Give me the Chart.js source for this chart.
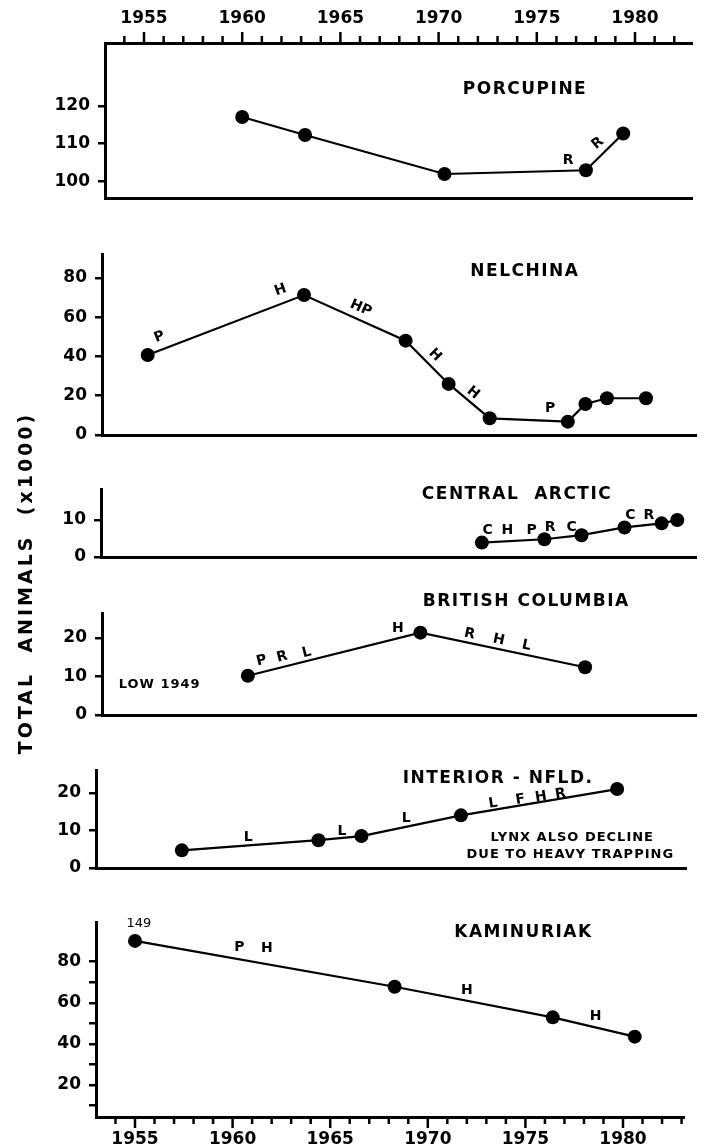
<!DOCTYPE html>
<html lang="en">
<head>
<meta charset="UTF-8">
<title>Total animals (x1000) by herd</title>
<script src="https://cdn.jsdelivr.net/npm/chart.js@4"></script>
<style>
  html, body { margin: 0; background: #fff; }
  #wrap { position: relative; width: 703px; height: 1148px; }
  #wrap canvas { position: absolute; left: 0; top: 0; }
</style>
</head>
<body>
<div id="wrap"></div>
<script>
// ---- data: survey years and herd size in thousands ----
const yearTicks = [1955, 1960, 1965, 1970, 1975, 1980];

const porcupineYears  = [1960.0, 1963.2, 1970.3, 1977.5, 1979.4];
const porcupineValues = [117.1, 112.3, 101.9, 102.9, 112.7];
const porcupineTicks  = [100, 110, 120];

const nelchinaYears  = [1955.2, 1963.2, 1968.4, 1970.6, 1972.7, 1976.7, 1977.6, 1978.7, 1980.7];
const nelchinaValues = [40.7, 71.2, 48.0, 26.0, 8.5, 6.8, 15.8, 18.7, 18.7];
const nelchinaTicks  = [0, 10, 20, 30, 40, 50, 60, 70, 80];

const arcticYears  = [1972.3, 1975.5, 1977.4, 1979.6, 1981.5, 1982.3];
const arcticValues = [3.9, 4.8, 5.9, 8.0, 9.1, 10.0];
const arcticTicks  = [0, 10];

const bcYears  = [1960.3, 1969.1, 1977.5];
const bcValues = [10.2, 21.4, 12.4];
const bcTicks  = [0, 10, 20];

const nfldYears  = [1957.4, 1964.4, 1966.6, 1971.7, 1979.7];
const nfldValues = [4.7, 7.4, 8.5, 14.0, 21.0];
const nfldTicks  = [0, 10, 20];

const kamYears  = [1955.0, 1968.3, 1976.4, 1980.6];
const kamValues = [90.1, 67.8, 52.9, 43.5];
const kamTicks  = [10, 20, 30, 40, 50, 60, 70, 80];

// text notes: [text, year, value, angle, kind]
const porcupineNotes = [
  ['PORCUPINE', 1974.4, 124.3, 0, 'title'],
  ['R', 1976.6, 105.6, 0, 'tag'],
  ['R', 1978.1, 110.1, -40, 'tag']
];
const nelchinaNotes = [
  ['NELCHINA', 1974.5, 83.0, 0, 'title'],
  ['P', 1955.8, 49.9, -21, 'tag'],
  ['H', 1962.0, 73.8, -20, 'tag'],
  ['HP', 1966.1, 64.6, 24, 'tag'],
  ['H', 1969.9, 40.7, 45, 'tag'],
  ['H', 1971.85, 21.4, 39, 'tag'],
  ['P', 1975.8, 13.7, 0, 'tag']
];
const arcticNotes = [
  ['CENTRAL  ARCTIC', 1974.1, 17.0, 0, 'title'],
  ['C', 1972.6, 7.3, 0, 'tag'], ['H', 1973.6, 7.3, 0, 'tag'], ['P', 1974.85, 7.3, 0, 'tag'],
  ['R', 1975.8, 8.1, 0, 'tag'], ['C', 1976.9, 8.1, 0, 'tag'],
  ['C', 1979.9, 11.35, 0, 'tag'], ['R', 1980.85, 11.35, 0, 'tag']
];
const bcNotes = [
  ['BRITISH COLUMBIA', 1974.5, 29.35, 0, 'title'],
  ['P', 1961.0, 14.1, -14, 'tag'], ['R', 1962.05, 15.1, -14, 'tag'], ['L', 1963.3, 16.2, -14, 'tag'],
  ['H', 1967.95, 22.5, 0, 'tag'],
  ['R', 1971.6, 21.0, 12, 'tag'], ['H', 1973.1, 19.5, 12, 'tag'], ['L', 1974.5, 18.0, 12, 'tag'],
  ['LOW 1949', 1955.8, 7.8, 0, 'small']
];
const nfldNotes = [
  ['INTERIOR - NFLD.', 1973.6, 23.9, 0, 'title'],
  ['L', 1960.8, 8.2, 0, 'tag'], ['L', 1965.6, 9.8, 0, 'tag'], ['L', 1968.9, 13.2, 0, 'tag'],
  ['L', 1973.35, 17.2, -9, 'tag'], ['F', 1974.75, 18.2, -9, 'tag'],
  ['H', 1975.8, 18.9, -9, 'tag'], ['R', 1976.8, 19.65, -9, 'tag'],
  ['LYNX ALSO DECLINE', 1977.4, 8.2, 0, 'small'],
  ['DUE TO HEAVY TRAPPING', 1977.3, 3.6, 0, 'small']
];
const kamNotes = [
  ['KAMINURIAK', 1974.9, 94.3, 0, 'title'],
  ['149', 1955.2, 98.7, 0, 'thin'],
  ['P', 1960.35, 86.9, 0, 'tag'], ['H', 1961.75, 86.5, 0, 'tag'],
  ['H', 1972.0, 65.8, 0, 'tag'],
  ['H', 1978.6, 53.5, 0, 'tag']
];

const FONT = '"DejaVu Sans", sans-serif';
const noteStyle = {
  title: { size: 17, weight: 'bold', spacing: '1.5px' },
  tag:   { size: 14, weight: 'bold', spacing: '0px' },
  small: { size: 13, weight: 'bold', spacing: '1px' },
  thin:  { size: 13, weight: 'normal', spacing: '0px' }
};

Chart.defaults.font.family = FONT;
Chart.defaults.font.weight = 'bold';
Chart.defaults.color = '#000';

// page geometry of each panel (pixels), x1955/ppy = where 1955 sits and pixels per year
const panels = [
  { years: porcupineYears, values: porcupineValues, ticks: porcupineTicks, shown: porcupineTicks, notes: porcupineNotes,
    left: 105, right: 692, top: 43, bottom: 198, x1955: 144, ppy: 19.64, yMin: 95.5, yMax: 136.8, axis: 'top' },
  { years: nelchinaYears, values: nelchinaValues, ticks: nelchinaTicks, shown: [0, 20, 40, 60, 80], notes: nelchinaNotes,
    left: 102, right: 699, top: 254, bottom: 435, x1955: 144, ppy: 19.64, yMin: 0, yMax: 92.1 },
  { years: arcticYears, values: arcticValues, ticks: arcticTicks, shown: arcticTicks, notes: arcticNotes,
    left: 101, right: 699, top: 489, bottom: 557, x1955: 144, ppy: 19.64, yMin: 0, yMax: 18.4 },
  { years: bcYears, values: bcValues, ticks: bcTicks, shown: bcTicks, notes: bcNotes,
    left: 102, right: 697, top: 613, bottom: 715, x1955: 144, ppy: 19.64, yMin: 0, yMax: 26.5 },
  { years: nfldYears, values: nfldValues, ticks: nfldTicks, shown: nfldTicks, notes: nfldNotes,
    left: 96, right: 686, top: 770, bottom: 868, x1955: 135, ppy: 19.52, yMin: 0, yMax: 26.07 },
  { years: kamYears, values: kamValues, ticks: kamTicks, shown: [20, 40, 60, 80], notes: kamNotes,
    left: 96, right: 684, top: 922, bottom: 1117, x1955: 135, ppy: 19.52, yMin: 4.4, yMax: 99.3, axis: 'bottom' }
];

const W = 703, H = 1148;

function notesPlugin(notes) {
  return {
    id: 'notes',
    afterDatasetsDraw(chart) {
      const { ctx, scales: { x, y } } = chart;
      notes.forEach(([text, yr, val, angle, kind]) => {
        const st = noteStyle[kind];
        ctx.save();
        ctx.translate(x.getPixelForValue(yr), y.getPixelForValue(val));
        ctx.rotate(angle * Math.PI / 180);
        ctx.font = `${st.weight} ${st.size}px ${FONT}`;
        ctx.letterSpacing = st.spacing;
        ctx.textAlign = 'center';
        ctx.textBaseline = 'middle';
        ctx.fillStyle = '#000';
        ctx.fillText(text, 0, 0);
        ctx.restore();
      });
    }
  };
}

// one tick per year, longer on the 5-year marks
function yearTicksPlugin(side) {
  return {
    id: 'yearTicks',
    afterDraw(chart) {
      if (!side) return;
      const { ctx, chartArea, scales: { x } } = chart;
      const edge = side === 'top' ? chartArea.top : chartArea.bottom;
      const dir = side === 'top' ? -1 : 1;
      ctx.save();
      ctx.strokeStyle = '#000';
      ctx.lineWidth = 2.5;
      for (let yr = Math.ceil(x.min); yr <= Math.floor(x.max); yr++) {
        const px = x.getPixelForValue(yr);
        const len = yr % 5 === 0 ? 11 : 7;
        ctx.beginPath();
        ctx.moveTo(px, edge);
        ctx.lineTo(px, edge + dir * len);
        ctx.stroke();
      }
      ctx.restore();
    }
  };
}

const yTitlePlugin = {
  id: 'yTitle',
  afterDraw(chart) {
    const ctx = chart.ctx;
    ctx.save();
    ctx.translate(27, 583);
    ctx.rotate(-Math.PI / 2);
    ctx.font = `bold 19px ${FONT}`;
    ctx.letterSpacing = '3px';
    ctx.textAlign = 'center';
    ctx.textBaseline = 'middle';
    ctx.fillStyle = '#000';
    ctx.fillText('TOTAL  ANIMALS  (x1000)', 0, 0);
    ctx.restore();
  }
};

panels.forEach((p, idx) => {
  const canvas = document.createElement('canvas');
  canvas.width = W;
  canvas.height = H;
  document.getElementById('wrap').appendChild(canvas);

  const xMin = 1955 - (p.x1955 - p.left) / p.ppy;
  const xMax = 1955 + (p.right - p.x1955) / p.ppy;
  const topH = p.axis === 'top' ? p.top : 0;
  const botH = p.axis === 'bottom' ? H - p.bottom : 0;

  const scales = {
    x: {
      type: 'linear',
      position: p.axis === 'top' ? 'top' : 'bottom',
      min: xMin,
      max: xMax,
      afterBuildTicks: s => { s.ticks = yearTicks.map(v => ({ value: v })); },
      afterFit: s => { s.height = p.axis === 'top' ? topH : botH; },
      grid: { display: false, drawTicks: false },
      border: { display: true, width: 3, color: '#000' },
      ticks: {
        display: !!p.axis,
        padding: p.axis === 'top' ? 14 : 12,
        font: { size: 17, weight: 'bold' },
        maxRotation: 0,
        autoSkip: false,
        callback: v => String(v)
      }
    },
    y: {
      type: 'linear',
      min: p.yMin,
      max: p.yMax,
      afterBuildTicks: s => { s.ticks = p.ticks.map(v => ({ value: v })); },
      afterFit: s => { s.width = p.left; },
      grid: { display: true, drawOnChartArea: false, drawTicks: true, tickLength: 7, lineWidth: 2.5, color: '#000' },
      border: { display: true, width: 3, color: '#000' },
      ticks: {
        padding: 8,
        font: { size: 17, weight: 'bold' },
        callback: v => p.shown.includes(v) ? String(v) : ''
      }
    }
  };
  if (p.axis === 'top') {
    // closing line under the first panel
    scales.xb = {
      type: 'linear', position: 'bottom', min: xMin, max: xMax,
      afterFit: s => { s.height = 0; },
      grid: { display: false, drawTicks: false },
      border: { display: true, width: 3, color: '#000' },
      ticks: { display: false }
    };
  }

  const plugins = [notesPlugin(p.notes), yearTicksPlugin(p.axis)];
  if (idx === panels.length - 1) plugins.push(yTitlePlugin);

  new Chart(canvas, {
    type: 'line',
    data: {
      datasets: [{
        data: p.years.map((yr, i) => ({ x: yr, y: p.values[i] })),
        borderColor: '#000',
        borderWidth: 2.2,
        pointRadius: 7,
        pointBorderWidth: 0,
        pointBackgroundColor: '#000',
        tension: 0,
        clip: false
      }]
    },
    options: {
      responsive: false,
      animation: false,
      events: [],
      layout: {
        padding: { left: 0, right: W - p.right, top: p.top - topH, bottom: H - p.bottom - botH }
      },
      plugins: { legend: { display: false }, tooltip: { enabled: false } },
      scales
    },
    plugins
  });
});
</script>
</body>
</html>
